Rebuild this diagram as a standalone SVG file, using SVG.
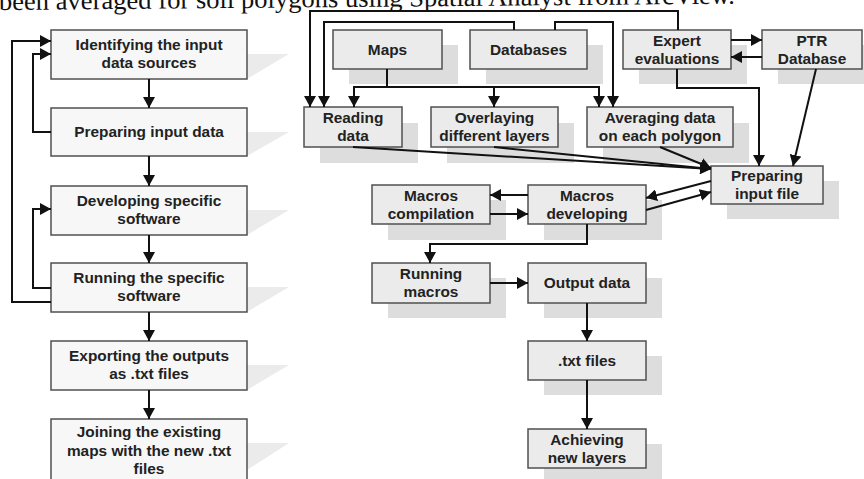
<svg xmlns="http://www.w3.org/2000/svg" width="864" height="479" viewBox="0 0 864 479">
<defs>
<marker id="ah" markerUnits="userSpaceOnUse" markerWidth="12" markerHeight="12" refX="11" refY="6" orient="auto" viewBox="0 0 12 12">
<path d="M0,0 L11,6 L0,12 z" fill="#111"/>
</marker>
</defs>
<style>
.bl{fill:#f7f7f7;stroke:#505050;stroke-width:1.5}
.br{fill:#ebebeb;stroke:#505050;stroke-width:1.5}
.sh{fill:#dddddd}
.tsh{fill:#ebebeb}
.t{font-family:"Liberation Sans",Arial,sans-serif;font-weight:bold;font-size:15.4px;fill:#222;text-anchor:middle}
.c{fill:none;stroke:#111;stroke-width:2}
.a{marker-end:url(#ah)}
</style>
<rect width="864" height="479" fill="#fff"/>
<text x="-1" y="10" transform="rotate(-0.5 0 10)" font-family="'Liberation Serif','Times New Roman',serif" font-size="26" fill="#111" textLength="736" lengthAdjust="spacingAndGlyphs">been averaged for soil polygons using Spatial Analyst from ArcView.</text>

<g id="n-identify"><polygon class="tsh" points="247,54 289,54 247,79"/><rect class="bl" x="51" y="30" width="196" height="49"/><text class="t" x="149" y="49.5">Identifying the input</text><text class="t" x="149" y="67.5">data sources</text></g>
<g id="n-prepare"><polygon class="tsh" points="247,132 289,132 247,156"/><rect class="bl" x="51" y="108" width="196" height="48"/><text class="t" x="149" y="137">Preparing input data</text></g>
<g id="n-develop"><polygon class="tsh" points="247,210 289,210 247,235"/><rect class="bl" x="51" y="186" width="196" height="49"/><text class="t" x="149" y="205.5">Developing specific</text><text class="t" x="149" y="223.5">software</text></g>
<g id="n-running"><polygon class="tsh" points="247,287 289,287 247,312"/><rect class="bl" x="51" y="263" width="196" height="49"/><text class="t" x="149" y="283">Running the specific</text><text class="t" x="149" y="301">software</text></g>
<g id="n-export"><polygon class="tsh" points="247,365 289,365 247,390"/><rect class="bl" x="51" y="341" width="196" height="49"/><text class="t" x="149" y="361">Exporting the outputs</text><text class="t" x="149" y="379">as .txt files</text></g>
<g id="n-joining"><polygon class="tsh" points="247,443 289,443 247,470"/><rect class="bl" x="51" y="419" width="196" height="64"/><text class="t" x="149" y="437">Joining the existing</text><text class="t" x="149" y="455.5">maps with the new .txt</text><text class="t" x="149" y="474">files</text></g>

<g id="n-maps"><rect class="sh" x="349" y="45" width="109" height="39"/><rect class="br" x="333" y="30" width="109" height="39"/><text class="t" x="387.5" y="54.5">Maps</text></g>
<g id="n-databases"><rect class="sh" x="486" y="45" width="117" height="39"/><rect class="br" x="470" y="30" width="117" height="39"/><text class="t" x="528.5" y="54.5">Databases</text></g>
<g id="n-expert"><rect class="sh" x="639" y="45" width="108" height="39"/><rect class="br" x="623" y="30" width="108" height="39"/><text class="t" x="677" y="45.5">Expert</text><text class="t" x="677" y="63.5">evaluations</text></g>
<g id="n-ptr"><rect class="sh" x="778" y="45" width="100" height="39"/><rect class="br" x="762" y="30" width="100" height="39"/><text class="t" x="812" y="45.5">PTR</text><text class="t" x="812" y="63.5">Database</text></g>
<g id="n-reading"><rect class="sh" x="320" y="123" width="98" height="40"/><rect class="br" x="304" y="107" width="98" height="40"/><text class="t" x="353" y="123">Reading</text><text class="t" x="353" y="141">data</text></g>
<g id="n-overlaying"><rect class="sh" x="447" y="123" width="127" height="40"/><rect class="br" x="431" y="107" width="127" height="40"/><text class="t" x="494.5" y="123">Overlaying</text><text class="t" x="494.5" y="141">different layers</text></g>
<g id="n-averaging"><rect class="sh" x="603" y="123" width="146" height="40"/><rect class="br" x="587" y="107" width="146" height="40"/><text class="t" x="660" y="123">Averaging data</text><text class="t" x="660" y="141">on each polygon</text></g>
<g id="n-prepfile"><rect class="sh" x="727" y="181" width="112" height="38"/><rect class="br" x="711" y="166" width="112" height="38"/><text class="t" x="767" y="181">Preparing</text><text class="t" x="767" y="199">input file</text></g>
<g id="n-compilation"><rect class="sh" x="388" y="200" width="118" height="40"/><rect class="br" x="372" y="185" width="118" height="39"/><text class="t" x="431" y="200.5">Macros</text><text class="t" x="431" y="218.5">compilation</text></g>
<g id="n-macdev"><rect class="sh" x="544" y="200" width="118" height="40"/><rect class="br" x="528" y="185" width="118" height="39"/><text class="t" x="587" y="200.5">Macros</text><text class="t" x="587" y="218.5">developing</text></g>
<g id="n-runmacros"><rect class="sh" x="388" y="278" width="118" height="40"/><rect class="br" x="372" y="263" width="118" height="40"/><text class="t" x="431" y="279">Running</text><text class="t" x="431" y="297">macros</text></g>
<g id="n-output"><rect class="sh" x="544" y="278" width="118" height="40"/><rect class="br" x="528" y="263" width="118" height="40"/><text class="t" x="587" y="288">Output data</text></g>
<g id="n-txt"><rect class="sh" x="544" y="356" width="118" height="39"/><rect class="br" x="528" y="341" width="118" height="39"/><text class="t" x="587" y="365.5">.txt files</text></g>
<g id="n-achieving"><rect class="sh" x="544" y="444" width="118" height="39"/><rect class="br" x="528" y="429" width="118" height="39"/><text class="t" x="587" y="444.5">Achieving</text><text class="t" x="587" y="462.5">new layers</text></g>

<g id="connectors">
<path class="c a" d="M149,79 V108"/>
<path class="c a" d="M149,156 V186"/>
<path class="c a" d="M149,235 V263"/>
<path class="c a" d="M149,312 V341"/>
<path class="c a" d="M149,390 V419"/>
<path class="c a" d="M51,302 H12 V41 H51"/>
<path class="c a" d="M51,132 H33 V54 H51"/>
<path class="c a" d="M51,288 H33 V209 H51"/>

<path class="c a" d="M678,30 V11 H310 V107"/>
<path class="c a" d="M514,30 V22 H324 V107"/>
<path class="c a" d="M555,30 V22 H613 V107"/>
<path class="c a" d="M387,69 V87 H354 V107"/>
<path class="c a" d="M387,87 H599 V107"/>
<path class="c a" d="M494,87 V107"/>
<path class="c a" d="M731,40 H762"/>
<path class="c a" d="M762,57 H731"/>
<path class="c a" d="M677,69 V88 H759 V166"/>
<path class="c a" d="M816,69 L793,166"/>
<path class="c a" d="M660,147 L711,168"/>
<path class="c a" d="M353,147 L711,169"/>
<path class="c a" d="M494,147 L711,169"/>
<path class="c a" d="M711,181 L646,198"/>
<path class="c a" d="M646,210 L711,192"/>
<path class="c a" d="M528,195 H490"/>
<path class="c a" d="M490,214 H528"/>
<path class="c a" d="M587,224 V244 H430 V263"/>
<path class="c a" d="M490,283 H528"/>
<path class="c a" d="M587,303 V341"/>
<path class="c a" d="M587,380 V429"/>
</g>
</svg>
